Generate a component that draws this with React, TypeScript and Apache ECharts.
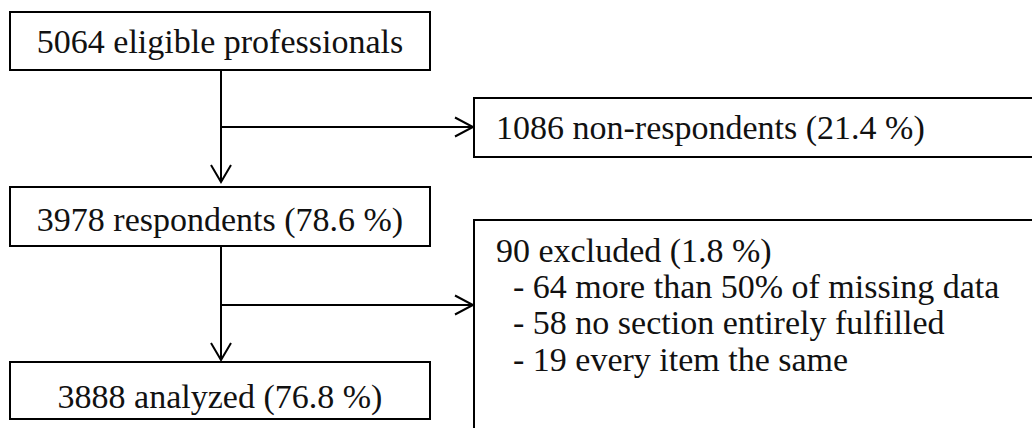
import React, { useEffect, useRef } from "react";
import * as echarts from "echarts";

// Flow chart content
const mainSteps: string[] = [
  "5064 eligible professionals",
  "3978 respondents (78.6 %)",
  "3888 analyzed (76.8 %)",
];
const sideTitles: string[] = ["1086 non-respondents (21.4 %)", "90 excluded (1.8 %)"];
const exclusionReasons: string[] = [
  "- 64 more than 50% of missing data",
  "- 58 no section entirely fulfilled",
  "- 19 every item the same",
];

const FONT = '34px "Liberation Serif", "Times New Roman", serif';
const INK = "#111";
const LINE = "#000";

export default function App() {
  const ref = useRef<HTMLDivElement>(null);

  useEffect(() => {
    if (!ref.current) return;
    const chart = echarts.init(ref.current, undefined, { renderer: "svg" });

    // layout
    const mainBoxes = [
      { x: 10, y: 12, w: 420, h: 58, ty: 41.5 },
      { x: 10, y: 187, w: 420, h: 59, ty: 219 },
      { x: 10, y: 362, w: 420, h: 57, ty: 396 },
    ];
    const sideBoxes = [
      { x: 474, y: 98, w: 620, h: 59 },
      { x: 474, y: 220, w: 620, h: 260 },
    ];
    const spineX = 221;
    const lineStyle = { stroke: LINE, lineWidth: 2, fill: "none" };
    const boxStyle = { stroke: LINE, lineWidth: 2, fill: "#fff" };

    const elements: any[] = [];

    mainBoxes.forEach((b, i) => {
      elements.push({
        type: "rect",
        shape: { x: b.x, y: b.y, width: b.w, height: b.h },
        style: boxStyle,
        z: 1,
      });
      elements.push({
        type: "text",
        x: b.x + b.w / 2,
        y: b.ty,
        style: {
          text: mainSteps[i],
          font: FONT,
          fill: INK,
          align: "center",
          verticalAlign: "middle",
        },
        z: 3,
      });
    });

    sideBoxes.forEach((b) => {
      elements.push({
        type: "rect",
        shape: { x: b.x, y: b.y, width: b.w, height: b.h },
        style: boxStyle,
        z: 1,
      });
    });

    elements.push({
      type: "text",
      x: 496,
      y: 127,
      style: { text: sideTitles[0], font: FONT, fill: INK, align: "left", verticalAlign: "middle" },
      z: 3,
    });
    elements.push({
      type: "text",
      x: 496,
      y: 250,
      style: { text: sideTitles[1], font: FONT, fill: INK, align: "left", verticalAlign: "middle" },
      z: 3,
    });
    const reasonY = [286, 322, 359];
    exclusionReasons.forEach((t, i) => {
      elements.push({
        type: "text",
        x: 513,
        y: reasonY[i],
        style: { text: t, font: FONT, fill: INK, align: "left", verticalAlign: "middle" },
        z: 3,
      });
    });

    // connectors
    const connectors = [
      { top: 70, tip: 182, branchY: 127 },
      { top: 246, tip: 360, branchY: 305 },
    ];
    connectors.forEach((c) => {
      elements.push({
        type: "line",
        shape: { x1: spineX, y1: c.top, x2: spineX, y2: c.tip },
        style: lineStyle,
        z: 2,
      });
      elements.push({
        type: "polyline",
        shape: { points: [[spineX - 10, c.tip - 17], [spineX, c.tip], [spineX + 10, c.tip - 17]] },
        style: lineStyle,
        z: 2,
      });
      elements.push({
        type: "line",
        shape: { x1: spineX, y1: c.branchY, x2: 473, y2: c.branchY },
        style: lineStyle,
        z: 2,
      });
      elements.push({
        type: "polyline",
        shape: { points: [[455, c.branchY - 9.5], [473, c.branchY], [455, c.branchY + 9.5]] },
        style: lineStyle,
        z: 2,
      });
    });

    chart.setOption({
      animation: false,
      backgroundColor: "#fff",
      graphic: { elements },
    });

    return () => chart.dispose();
  }, []);

  return (
    <div
      ref={ref}
      style={{ position: "absolute", left: 0, top: 0, width: 1032, height: 428, background: "#fff" }}
    />
  );
}
